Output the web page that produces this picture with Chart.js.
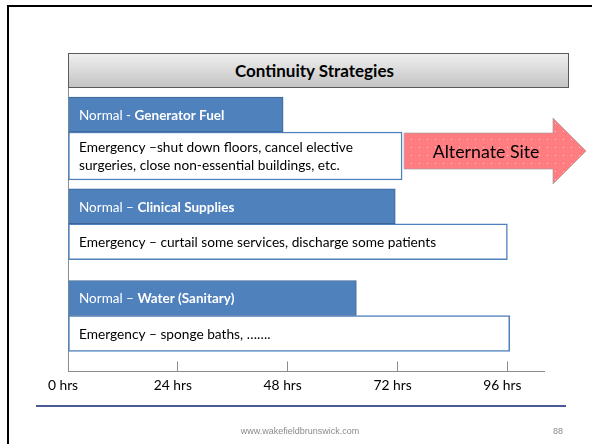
<!DOCTYPE html>
<html>
<head>
<meta charset="utf-8">
<script src="https://cdn.jsdelivr.net/npm/chart.js@4"></script>
<style>
  html, body { margin: 0; padding: 0; background: #fff; }
  #chart { position: absolute; left: 0; top: 0; }
  #titleBox { position: absolute; left: 68px; top: 53px; width: 491px; height: 33px; padding-right: 8px;
    border: 1px solid #5a5a5a; background: linear-gradient(#efefef, #c4c4c4);
    font: bold 17px Lato, sans-serif; color: #000; text-align: center; line-height: 34px; }
  #footLine { position: absolute; left: 36px; top: 405px; width: 530px; height: 2px; background: #4a5a96; }
  #footText { position: absolute; left: 200px; top: 426px; width: 200px; text-align: center;
    font: 9px "Liberation Sans", Arial, sans-serif; color: #8a8a8a; }
  #pageNo { position: absolute; left: 548px; top: 426px; width: 20px; text-align: center;
    font: 9px "Liberation Sans", Arial, sans-serif; color: #8a8a8a; }
</style>
</head>
<body>
<canvas id="chart" width="592" height="444"></canvas>
<div id="titleBox">Continuity Strategies</div>
<div id="footLine"></div>
<div id="footText">www.wakefieldbrunswick.com</div>
<div id="pageNo">88</div>
<script>
const categories = ['Generator Fuel', 'Clinical Supplies', 'Water (Sanitary)'];
const normalPrefixes = ['Normal - ', 'Normal – ', 'Normal – '];
const normalHours = [47, 71.5, 63];
const emergencyHours = [73, 96, 96.5];
const emergencyNotes = [
    ['Emergency –shut down floors, cancel elective', 'surgeries, close non-essential buildings, etc.'],
    ['Emergency – curtail some services, discharge some patients'],
    ['Emergency – sponge baths, …….']
];
const hourTicks = [0, 24, 48, 72, 96];
const tickLabels = ['0 hrs', '24 hrs', '48 hrs', '72 hrs', '96 hrs'];
const arrowLabel = 'Alternate Site';

// slide frame: only the top and left edges fall inside the picture
const slideFrame = {
    id: 'slideFrame',
    beforeDraw(chart) {
        const ctx = chart.ctx;
        ctx.save();
        ctx.fillStyle = '#000';
        ctx.fillRect(7, 5, chart.width - 7, 2);
        ctx.fillRect(7, 5, 2, chart.height - 5);
        ctx.restore();
    }
};

// two-line notes get a taller box, top edge stays put
const fitNotes = {
    id: 'fitNotes',
    afterDatasetsUpdate(chart) {
        chart.getDatasetMeta(1).data.forEach((bar, i) => {
            const extra = (emergencyNotes[i].length - 1) * 12;
            if (!extra) return;
            const top = bar.y - bar.height / 2;
            bar.height += extra;
            bar.y = top + bar.height / 2;
        });
    }
};

function dotPattern(ctx) {
    const c = document.createElement('canvas');
    c.width = 8; c.height = 8;
    const p = c.getContext('2d');
    p.fillStyle = '#ff7c80';
    p.fillRect(0, 0, 8, 8);
    p.fillStyle = 'rgba(255,255,255,0.6)';
    p.fillRect(3, 3, 1, 1);
    return ctx.createPattern(c, 'repeat');
}

const barText = {
    id: 'barText',
    afterDatasetsDraw(chart) {
        const ctx = chart.ctx;
        const left = chart.chartArea.left;
        ctx.save();
        ctx.textBaseline = 'middle';
        ctx.textAlign = 'left';

        chart.getDatasetMeta(0).data.forEach((bar, i) => {
            ctx.fillStyle = '#fff';
            ctx.font = '13.5px Lato';
            ctx.fillText(normalPrefixes[i], left + 11, bar.y + 1);
            const w = ctx.measureText(normalPrefixes[i]).width;
            ctx.font = 'bold 13.5px Lato';
            ctx.fillText(categories[i], left + 11 + w, bar.y + 1);
        });

        ctx.fillStyle = '#000';
        ctx.font = '13.7px Lato';
        chart.getDatasetMeta(1).data.forEach((bar, i) => {
            const lines = emergencyNotes[i];
            lines.forEach((t, k) => {
                ctx.fillText(t, left + 11, bar.y + (k - (lines.length - 1) / 2) * 18 + 1);
            });
        });

        // arrow off the end of the first emergency box
        const bar = chart.getDatasetMeta(1).data[0];
        const x0 = bar.x + 2, cy = bar.y - 5, tip = chart.width - 6, neck = tip - 33;
        ctx.beginPath();
        ctx.moveTo(x0, cy - 18);
        ctx.lineTo(neck, cy - 18);
        ctx.lineTo(neck, cy - 33);
        ctx.lineTo(tip, cy);
        ctx.lineTo(neck, cy + 33);
        ctx.lineTo(neck, cy + 18);
        ctx.lineTo(x0, cy + 18);
        ctx.closePath();
        ctx.fillStyle = dotPattern(ctx);
        ctx.fill();
        ctx.strokeStyle = 'rgba(160,160,160,0.7)';
        ctx.lineWidth = 1;
        ctx.stroke();
        ctx.fillStyle = '#000';
        ctx.font = '17.8px Lato';
        ctx.textAlign = 'center';
        ctx.fillText(arrowLabel, (x0 + tip) / 2 - 9, cy + 1);
        ctx.restore();
    }
};

new Chart(document.getElementById('chart'), {
    type: 'bar',
    data: {
        datasets: [{
            label: 'Normal',
            data: normalHours.map((h, i) => ({x: h, y: i})),
            backgroundColor: '#4f81bd',
            borderColor: '#3a6596',
            borderWidth: 1,
            barThickness: 35,
        }, {
            label: 'Emergency',
            data: emergencyHours.map((h, i) => ({x: h, y: i})),
            backgroundColor: '#ffffff',
            borderColor: '#4f81bd',
            borderWidth: 1.5,
            borderSkipped: false,
            barThickness: 36,
        }]
    },
    options: {
        indexAxis: 'y',
        responsive: false,
        animation: false,
        layout: {
            padding: {left: 68, right: 48, top: 88, bottom: 34}
        },
        plugins: {
            legend: {display: false},
            tooltip: {enabled: false}
        },
        scales: {
            x: {
                type: 'linear',
                min: 0,
                max: 104,
                afterBuildTicks: function(scale) {
                    scale.ticks = hourTicks.map(v => ({value: v}));
                },
                ticks: {
                    callback: (v, i) => tickLabels[i],
                    color: '#000',
                    font: {family: 'Lato', size: 13.8},
                    padding: 16,
                    labelOffset: -5,
                    autoSkip: false,
                    maxRotation: 0
                },
                grid: {
                    drawOnChartArea: false,
                    tickLength: -10,
                    color: '#8c8c8c'
                },
                border: {color: '#8c8c8c'}
            },
            y: {
                type: 'linear',
                reverse: true,
                offset: false,
                min: -0.48,
                max: 2.61,
                ticks: {display: false},
                grid: {display: false, drawTicks: false, offset: false},
                border: {color: '#8c8c8c'}
            }
        }
    },
    plugins: [slideFrame, fitNotes, barText]
});
</script>
</body>
</html>
